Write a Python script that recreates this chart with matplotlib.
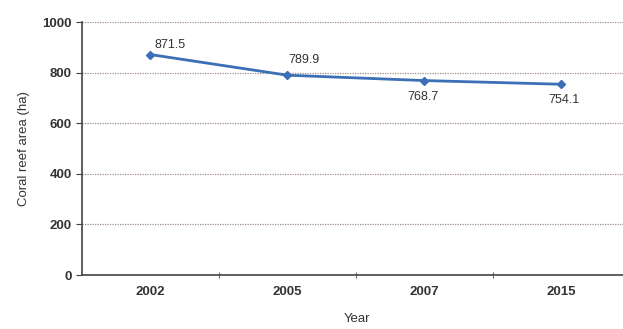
import matplotlib
matplotlib.use('Agg')
import matplotlib.pyplot as plt

years = ['2002', '2005', '2007', '2015']
area = [871.5, 789.9, 768.7, 754.1]
label_offsets = [(14, 7), (12, 11), (-1, -12), (2, -11.5)]  # points, from the picture

plt.rcParams['font.family'] = ['Liberation Sans', 'DejaVu Sans']

fig = plt.figure(figsize=(6.23, 3.29), dpi=100)
ax = fig.add_axes([0.1316, 0.164, 0.879, 0.769])

x = list(range(len(years)))
ax.plot(x, area, color='#3b6fb6', lw=2, marker='D', ms=4, zorder=3)

for xi, v, off in zip(x, area, label_offsets):
    ax.annotate(f'{v:.1f}', (xi, v), xytext=off, textcoords='offset points',
                ha='center', va='center', fontsize=9, color='#333333')

ax.set_xlim(-0.5, len(years) - 0.5)
ax.set_ylim(0, 1000)
ax.set_yticks(range(0, 1001, 200))
ax.yaxis.grid(True, ls=(0, (1, 1)), color='#a08f88', lw=0.9)
ax.set_axisbelow(True)

ax.set_xticks(x)
ax.set_xticklabels(years, fontsize=9.5, fontweight='bold', color='#333333')
ax.set_xticks([i + 0.5 for i in x[:-1]], minor=True)
ax.tick_params(axis='x', which='major', length=0, pad=8)
ax.tick_params(axis='x', which='minor', length=4, direction='inout', color='#444444')
ax.tick_params(axis='y', length=4, color='#444444', labelsize=9.5, labelcolor='#333333')
for t in ax.get_yticklabels():
    t.set_fontweight('bold')

for s in ['top', 'right']:
    ax.spines[s].set_visible(False)
for s in ['left', 'bottom']:
    ax.spines[s].set_color('#444444')
    ax.spines[s].set_linewidth(1.2)

ax.set_xlabel('Year', fontsize=9.5, color='#333333')
ax.xaxis.set_label_coords((357 - 82) / (0.879 * 623), -0.15)
ax.set_ylabel('Coral reef area (ha)', fontsize=9.5, color='#333333')
ax.yaxis.set_label_coords(-(82 - 30) / (0.879 * 623), 0.5)

fig.savefig('out.png', dpi=100)
